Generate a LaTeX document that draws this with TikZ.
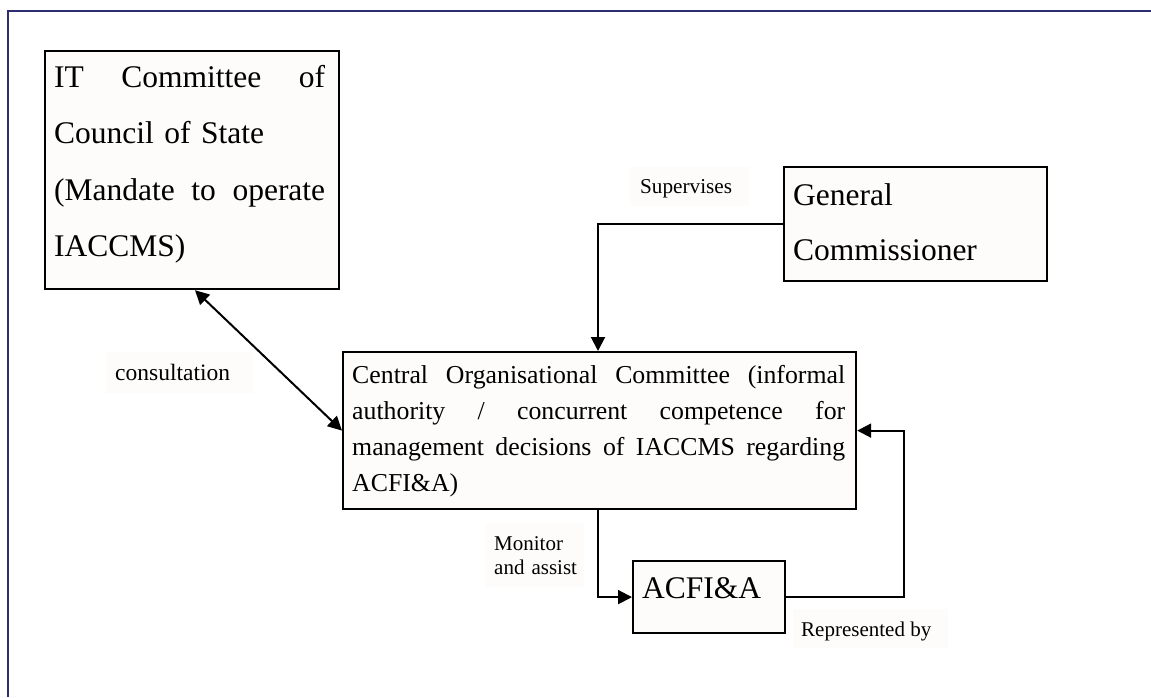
\documentclass[tikz,border=0pt]{standalone}
\usepackage{fontspec}
\setmainfont{Liberation Serif}
\usetikzlibrary{arrows.meta}
\definecolor{framecol}{RGB}{46,45,110}
\definecolor{paper}{RGB}{253,252,250}
% a justified line of fixed width: words spread with \hfill
\newcommand{\spreadline}[2]{\leavevmode\hbox to #1{#2}}

\begin{document}
\begin{tikzpicture}[x=1pt,y=-1pt,
  box/.style={draw=black, line width=2.2pt, fill=paper, inner sep=0pt, anchor=north west},
  boxtext/.style={anchor=base west, inner sep=0pt, align=left},
  tagbg/.style={fill=paper, inner sep=0pt, anchor=north west},
  tagtext/.style={anchor=base west, inner sep=0pt, align=left},
  link/.style={line width=2pt, -{Triangle[length=14pt,width=14pt]}},
]
\useasboundingbox (0,0) rectangle (1151,697);

% page frame (left and top edges)
\draw[framecol, line width=2pt] (8,697) -- (8,11) -- (1151,11);

% boxes
\node[box, minimum width=294pt, minimum height=238pt] (it) at (44,50) {};
\node[box, minimum width=263pt, minimum height=114pt] (gc) at (783,166) {};
\node[box, minimum width=513pt, minimum height=157pt] (coc) at (342,351) {};
\node[box, minimum width=152pt, minimum height=72pt] (acfi) at (632,560) {};

% box texts
\node[boxtext, text width=271pt, font=\fontsize{31.5}{56.5}\selectfont] (it-text) at (54,87)
  {\spreadline{271pt}{IT\hfill Committee\hfill of}\\
   Council of State\\
   \spreadline{271pt}{(Mandate\hfill to\hfill operate}\\
   IACCMS)};
\node[boxtext, text width=240pt, font=\fontsize{31.5}{55}\selectfont] (gc-text) at (793,205)
  {General\\Commissioner};
\node[boxtext, text width=493pt, font=\fontsize{25.8}{36}\selectfont] (coc-text) at (352,383)
  {\spreadline{493pt}{Central\hfill Organisational\hfill Committee\hfill (informal}\\
   \spreadline{493pt}{authority\hfill /\hfill concurrent\hfill competence\hfill for}\\
   \spreadline{493pt}{management\hfill decisions\hfill of\hfill IACCMS\hfill regarding}\\
   ACFI\&A)};
\node[boxtext, font=\fontsize{31.5}{36}\selectfont] (acfi-text) at (642,598) {ACFI\&A};

% connector label backgrounds
\node[tagbg, minimum width=119pt, minimum height=39pt] (sup-bg) at (630,167) {};
\node[tagbg, minimum width=147pt, minimum height=41pt] (con-bg) at (106,352) {};
\node[tagbg, minimum width=98pt, minimum height=64pt] (mon-bg) at (486,523) {};
\node[tagbg, minimum width=155pt, minimum height=39pt] (rep-bg) at (793,609) {};

% connector labels
\node[tagtext, font=\fontsize{21.2}{24}\selectfont] (sup) at (640,193) {Supervises};
\node[tagtext, font=\fontsize{23.5}{26}\selectfont] (con) at (115,380) {consultation};
\node[tagtext, text width=95pt, font=\fontsize{21}{24}\selectfont] (mon) at (494,550) {Monitor\\and assist};
\node[tagtext, font=\fontsize{21}{24}\selectfont] (rep) at (801,636) {Represented by};

% connectors
\draw[link] (gc.west) -| ([xshift=256pt]coc.north west);
\draw[line width=2pt, {Triangle[length=14pt,width=14pt]}-{Triangle[length=14pt,width=14pt]}]
  ([xshift=151pt]it.south west) -- (coc.west);
\draw[link] ([xshift=256pt]coc.south west) |- (acfi.west);
\draw[link] (acfi.east) -- ++(118,0) |- (coc.east);
\end{tikzpicture}
\end{document}
